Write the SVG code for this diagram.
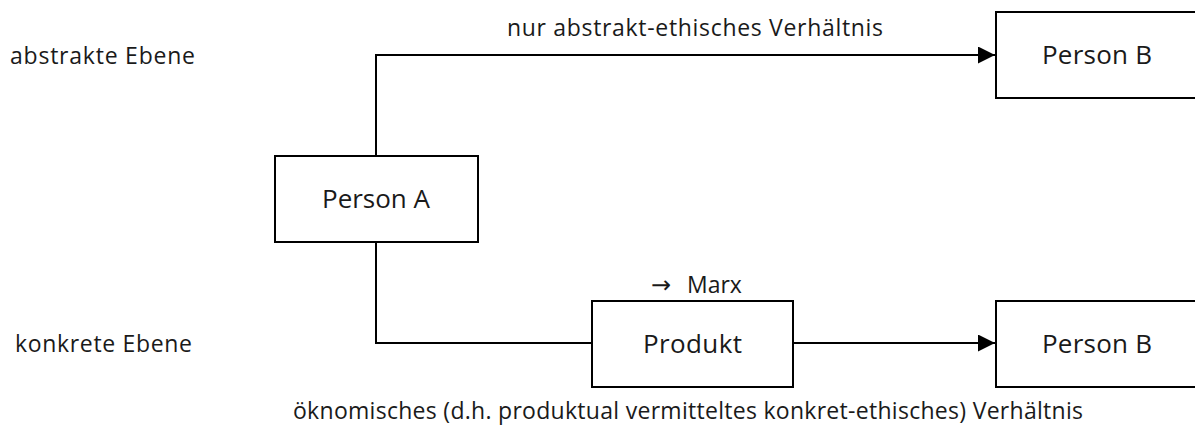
<svg xmlns="http://www.w3.org/2000/svg" width="1195" height="429" viewBox="0 0 1195 429">
<defs>
<style>
text{font-family:"Open Sans","Noto Sans",sans-serif;font-size:23px;fill:#1a1a1a}
.node text{font-size:26px}
.box{fill:#fff;stroke:#000;stroke-width:2}
.ln{fill:none;stroke:#000;stroke-width:2}
</style>
<marker id="arr" markerWidth="17" markerHeight="17" refX="17" refY="8.5" orient="auto" markerUnits="userSpaceOnUse" viewBox="0 0 17 17"><path d="M0,0 L17,8.5 L0,17 Z" fill="#000"/></marker>
</defs>
<g id="connectors">
<path class="ln" d="M376,156 V55 H995" marker-end="url(#arr)"/>
<path class="ln" d="M376,242 V343 H592"/>
<path class="ln" d="M793,343 H995" marker-end="url(#arr)"/>
</g>
<g id="personA" class="node"><rect class="box" x="275" y="156" width="203" height="86"/><text x="376" y="208" text-anchor="middle" textLength="108" lengthAdjust="spacing">Person A</text></g>
<g id="personB1" class="node"><rect class="box" x="996" y="12" width="210" height="86"/><text x="1097" y="64" text-anchor="middle" textLength="110" lengthAdjust="spacing">Person B</text></g>
<g id="produkt" class="node"><rect class="box" x="592" y="301" width="201" height="86"/><text x="692.5" y="353" text-anchor="middle" textLength="99" lengthAdjust="spacing">Produkt</text></g>
<g id="personB2" class="node"><rect class="box" x="996" y="301" width="210" height="86"/><text x="1097" y="353" text-anchor="middle" textLength="110" lengthAdjust="spacing">Person B</text></g>
<g id="labels">
<text x="507" y="36" textLength="376" lengthAdjust="spacing">nur abstrakt-ethisches Verhältnis</text>
<text x="651" y="293"><tspan font-family="DejaVu Sans, sans-serif" font-size="24">→</tspan><tspan x="687">Marx</tspan></text>
<text x="10" y="64" textLength="185" lengthAdjust="spacing">abstrakte Ebene</text>
<text x="15" y="352" textLength="177" lengthAdjust="spacing">konkrete Ebene</text>
<text x="293" y="419" textLength="790" lengthAdjust="spacing">öknomisches (d.h. produktual vermitteltes konkret-ethisches) Verhältnis</text>
</g>
</svg>
